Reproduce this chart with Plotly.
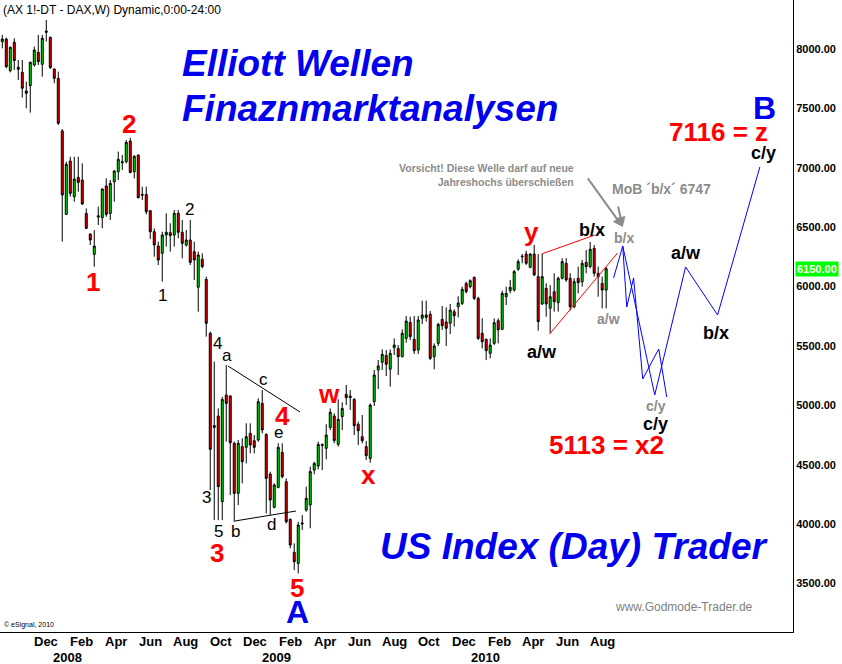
"""Weekly DAX future candles with an Elliott wave count (Godmode-Trader style)."""

import pandas as pd
import plotly.graph_objects as go

# Weekly bars, the first bar is the week of 2007-10-08.
first_week = "2007-10-08"
opens = [
    8060, 8084, 7817, 8056, 7846, 7803, 7646, 7691, 7865, 7972,
    7871, 8140, 8098, 7831, 7753, 7310, 6608, 7057, 6757, 6919,
    6897, 6616, 6442, 6271, 6585, 6580, 6847, 6616, 6883, 6967,
    7042, 7051, 7225, 6967, 7107, 6768, 6776, 6639, 6462, 6342,
    6280, 6434, 6454, 6434, 6617, 6457, 6350, 6392, 6294, 5994,
    6230, 6061, 5607, 4830, 4911, 4190, 5087, 5079, 4681, 4260,
    4653, 4647, 4765, 4703, 4709, 5017, 4756, 4422, 4142, 4310,
    4605, 4358, 4041, 3763, 3670, 4002, 4119, 4162, 4456, 4490,
    4662, 4639, 4815, 4911, 4672, 4905, 5093, 5065, 5051, 4841,
    4737, 4653, 4554, 5031, 5298, 5363, 5421, 5304, 5486, 5478,
    5410, 5564, 5699, 5556, 5466, 5733, 5761, 5767, 5410, 5522,
    5724, 5702, 5691, 5789, 5830, 5859, 6027, 5999, 6078, 5901,
    5607, 5556, 5438, 5522, 5713, 5640, 5915, 5966, 5971, 6145,
    6250, 6274, 6162, 6274, 6084, 5854, 5985, 5817, 5957, 5865,
    6070, 6196, 6070, 5831, 6070, 6041, 6204, 6168, 6322, 6112,
    6027, 5971,
]
highs = [
    8118, 8095, 8020, 8090, 7907, 7907, 7725, 7893, 8020, 8118,
    8118, 8244, 8104, 7837, 7809, 7326, 7051, 7093, 7093, 7093,
    7037, 6658, 6448, 6476, 6673, 6827, 6911, 6897, 6981, 7136,
    7107, 7234, 7253, 7107, 7113, 6841, 6841, 6644, 6490, 6378,
    6462, 6617, 6533, 6645, 6645, 6561, 6476, 6561, 6378, 6294,
    6280, 6084, 5621, 5368, 4975, 5073, 5340, 5087, 4695, 4709,
    4723, 4849, 4849, 4751, 5059, 5130, 4765, 4442, 4344, 4681,
    4681, 4386, 4049, 3839, 4021, 4077, 4316, 4485, 4526, 4695,
    4681, 4841, 4975, 4933, 5051, 5026, 5172, 5130, 5060, 4863,
    4919, 4700, 5017, 5298, 5382, 5472, 5466, 5472, 5564, 5508,
    5640, 5753, 5747, 5753, 5753, 5882, 5882, 5795, 5522, 5696,
    5837, 5825, 5854, 5809, 5918, 5999, 6041, 6061, 6084, 5915,
    5733, 5564, 5564, 5733, 5733, 5966, 5999, 6056, 6140, 6230,
    6274, 6302, 6280, 6350, 6274, 6275, 6027, 6013, 6112, 6084,
    6238, 6240, 6112, 6070, 6168, 6224, 6308, 6375, 6350, 6168,
    6084, 6165,
]
lows = [
    8005, 7837, 7803, 7823, 7739, 7590, 7500, 7464, 7851, 7865,
    7767, 8062, 7831, 7711, 7360, 6378, 6602, 6757, 6715, 6799,
    6687, 6485, 6350, 6167, 6518, 6490, 6588, 6560, 6715, 6897,
    6981, 7037, 6953, 6911, 6743, 6729, 6608, 6400, 6252, 6182,
    6042, 6336, 6294, 6336, 6406, 6238, 6336, 6182, 6056, 5789,
    6154, 5579, 4288, 4035, 4035, 4035, 4695, 4246, 4021, 4162,
    4344, 4512, 4596, 4596, 4695, 4765, 4091, 4077, 4133, 4302,
    4386, 4007, 3797, 3614, 3586, 3951, 4105, 3966, 4420, 4462,
    4456, 4546, 4793, 4681, 4653, 4793, 5003, 4961, 4751, 4667,
    4681, 4540, 4518, 4995, 5138, 5298, 5247, 5158, 5424, 5256,
    5405, 5528, 5550, 5433, 5433, 5685, 5705, 5382, 5304, 5500,
    5635, 5500, 5601, 5663, 5741, 5845, 5943, 5985, 5887, 5550,
    5480, 5382, 5396, 5508, 5522, 5635, 5845, 5943, 5957, 6134,
    6196, 6182, 6154, 6089, 5629, 5845, 5747, 5607, 5789, 5789,
    6060, 6040, 5800, 5817, 5943, 5999, 6112, 6154, 6084, 5915,
    5817, 5817,
]
closes = [
    8084, 7851, 8014, 7902, 7829, 7669, 7627, 7888, 7991, 7893,
    8090, 8150, 7843, 7753, 7374, 6771, 7029, 6785, 6905, 6877,
    6695, 6490, 6392, 6341, 6595, 6821, 6608, 6869, 6973, 7071,
    7050, 7214, 6961, 7096, 6748, 6775, 6630, 6462, 6350, 6224,
    6434, 6457, 6429, 6617, 6457, 6364, 6392, 6204, 6224, 6266,
    6168, 5691, 4630, 4815, 4316, 5051, 5017, 4686, 4260, 4681,
    4526, 4737, 4667, 4647, 5031, 4793, 4386, 4204, 4330, 4647,
    4400, 4021, 3825, 3685, 3993, 4010, 4218, 4443, 4512, 4672,
    4670, 4751, 4942, 4703, 4883, 4975, 5065, 5079, 4829, 4787,
    4703, 4577, 5003, 5256, 5332, 5430, 5346, 5438, 5508, 5410,
    5607, 5710, 5579, 5461, 5719, 5761, 5741, 5396, 5500, 5682,
    5671, 5649, 5803, 5755, 5862, 5977, 5957, 6050, 5901, 5564,
    5536, 5461, 5508, 5696, 5635, 5943, 5943, 5994, 6126, 6210,
    6255, 6196, 6274, 6098, 5705, 6084, 5854, 5915, 5873, 6070,
    6210, 6056, 5831, 6041, 6033, 6196, 6168, 6314, 6112, 6084,
    5971, 6150,
]
last_price = 6150

price_ticks = [3500, 4000, 4500, 5000, 5500, 6000, 6500, 7000, 7500, 8000]
month_ticks = [
    "2007-12", "2008-02", "2008-04", "2008-06", "2008-08", "2008-10",
    "2008-12", "2009-02", "2009-04", "2009-06", "2009-08", "2009-10",
    "2009-12", "2010-02", "2010-04", "2010-06", "2010-08",
]
month_labels = [
    "Dec", "Feb", "Apr", "Jun", "Aug", "Oct",
    "Dec", "Feb", "Apr", "Jun", "Aug", "Oct",
    "Dec", "Feb", "Apr", "Jun", "Aug",
]
year_ticks = ["2008-01-30", "2009-01-30", "2010-01-30"]
year_labels = ["2008", "2009", "2010"]

# Lines drawn by hand on the chart, as (date, price) pairs.
tri_upper_dates = ["2008-11-06", "2009-03-12"]
tri_upper_prices = [5332, 4945]
tri_lower_dates = ["2008-11-18", "2009-03-05"]
tri_lower_prices = [4027, 4111]
wedge_upper_dates = ["2010-05-09", "2010-08-10"]
wedge_upper_prices = [6275, 6434]
wedge_lower_dates = ["2010-05-23", "2010-09-19"]
wedge_lower_prices = [5601, 6283]

# Projected paths (blue).
proj_short_dates = ["2010-09-12", "2010-09-28", "2010-10-05", "2010-10-17",
                    "2010-11-02", "2010-11-30", "2010-12-14"]
proj_short_prices = [6073, 6342, 5828, 6073, 5222, 5475, 5071]
proj_long_dates = ["2010-09-28", "2010-11-23", "2011-01-16", "2011-03-13",
                   "2011-05-26"]
proj_long_prices = [6342, 5088, 6165, 5761, 7007]

# Wave labels: (text, date, price).
red_labels = [
    ("1", "2008-03-14", 6039), ("2", "2008-05-16", 7369),
    ("3", "2008-10-17", 3758), ("4", "2009-02-10", 4911),
    ("5", "2009-03-06", 3463), ("w", "2009-05-01", 5096),
    ("x", "2009-07-10", 4414), ("y", "2010-04-21", 6462),
    ("7116 = z", "2011-03-15", 7301), ("5113 = x2", "2010-08-31", 4667),
]
blue_labels = [("A", "2009-03-08", 3261), ("B", "2011-06-03", 7503)]
black_labels = [
    ("1", "2008-07-15", 5929), ("2", "2008-08-31", 6653),
    ("4", "2008-10-19", 5525), ("a", "2008-11-04", 5424),
    ("c", "2009-01-07", 5214), ("e", "2009-02-03", 4768),
    ("3", "2008-09-30", 4221), ("5", "2008-10-21", 3935),
    ("b", "2008-11-20", 3935), ("d", "2009-01-22", 3994),
]
black_bold_labels = [
    ("a/w", "2010-05-09", 5450), ("b/x", "2010-08-05", 6477),
    ("a/w", "2011-01-16", 6283), ("b/x", "2011-03-10", 5610),
    ("c/y", "2011-06-02", 7125), ("c/y", "2010-11-25", 4844),
]
grey_labels = [
    ("b/x", "2010-10-01", 6409), ("a/w", "2010-09-03", 5727),
    ("c/y", "2010-11-25", 4995), ("MoB ´b/x´ 6747", "2010-12-05", 6822),
]

_FONT = "Liberation Sans, Arial, sans-serif"
_NARROW = "Liberation Sans Narrow, Arial Narrow, Liberation Sans, Arial"
_UP = "#00ee00"
_DOWN = "#ee0000"
_RED = "#ff0000"
_BLUE = "#0000ee"
_GREY = "#8c8c8c"

weeks = pd.date_range(first_week, periods=len(opens), freq="7D")

fig = go.Figure()
fig.add_trace(
    go.Candlestick(
        x=weeks, open=opens, high=highs, low=lows, close=closes,
        increasing={"line": {"color": "black", "width": 1}, "fillcolor": _UP},
        decreasing={"line": {"color": "black", "width": 1}, "fillcolor": _DOWN},
        whiskerwidth=0,
        hoverinfo="skip",
    )
)


def _line(dates, prices, color):
    fig.add_trace(
        go.Scatter(x=dates, y=prices, mode="lines",
                   line={"color": color, "width": 1}, hoverinfo="skip")
    )


_line(tri_upper_dates, tri_upper_prices, "black")
_line(tri_lower_dates, tri_lower_prices, "black")
_line(wedge_upper_dates, wedge_upper_prices, _RED)
_line(wedge_lower_dates, wedge_lower_prices, _RED)
_line(proj_short_dates, proj_short_prices, "#0000ff")
_line(proj_long_dates, proj_long_prices, "#0000ff")


def _labels(items, size, color, weight="bold"):
    for text, d, p in items:
        fig.add_annotation(
            x=d, y=p, text=text, showarrow=False,
            font={"family": _FONT, "size": size, "color": color, "weight": weight},
        )


_labels(red_labels, 26, _RED)
_labels(blue_labels, 32, _BLUE)
_labels(black_labels, 17, "black", weight="normal")
_labels(black_bold_labels, 18, "black")
_labels(grey_labels, 14, _GREY)

# Warning note with arrows pointing at the grey b/x.
fig.add_annotation(
    x="2010-07-08", y=6939, xanchor="right", yanchor="middle", align="right",
    showarrow=False,
    text="Vorsicht! Diese Welle darf auf neue<br>Jahreshochs überschießen",
    font={"family": _FONT, "size": 10.5, "color": _GREY, "weight": "bold"},
)
for ax, ay in [(-36, -50), (-5, -22)]:
    fig.add_annotation(
        x="2010-09-28", y=6502, ax=ax, ay=ay, text="", showarrow=True,
        arrowhead=2, arrowsize=1, arrowwidth=2, arrowcolor=_GREY,
    )

# Headline texts.
for text, px, py in [("Elliott Wellen", 0.227, 0.900),
                     ("Finaznmarktanalysen", 0.227, 0.829),
                     ("US Index (Day) Trader", 0.477, 0.136)]:
    fig.add_annotation(
        xref="paper", yref="paper", x=px, y=py, xanchor="left",
        yanchor="middle", showarrow=False, text=text,
        font={"family": _FONT, "size": 37, "color": _BLUE,
              "weight": "bold", "style": "italic"},
    )

fig.add_annotation(
    xref="paper", yref="paper", x=0.001, y=1, xanchor="left", yanchor="top",
    yshift=-1, showarrow=False, text="(AX 1!-DT - DAX,W) Dynamic,0:00-24:00",
    font={"family": _FONT, "size": 12, "color": "black"},
)
fig.add_annotation(
    xref="paper", yref="paper", x=0.952, y=0.04, xanchor="right",
    yanchor="middle", showarrow=False, text="www.Godmode-Trader.de",
    font={"family": _FONT, "size": 12, "color": "#7f7f7f"},
)
fig.add_annotation(
    xref="paper", yref="paper", x=0.002, y=0.011, xanchor="left",
    yanchor="middle", showarrow=False, text="© eSignal, 2010",
    font={"family": _FONT, "size": 7, "color": "black"},
)

# Last price box on the price axis.
fig.add_annotation(
    xref="paper", x=1, y=last_price, xanchor="left", yanchor="middle",
    xshift=2, showarrow=False,
    text=f"{last_price:.2f}", bgcolor="#00ff00", borderpad=1,
    font={"family": _FONT, "size": 11, "color": "white", "weight": "bold"},
)

# Month and year captions under the time axis.
for m, text in zip(month_ticks, month_labels):
    fig.add_annotation(
        x=m + "-24", yref="paper", y=0, yanchor="middle", yshift=-9,
        showarrow=False, text=text,
        font={"family": _NARROW, "size": 13, "color": "black", "weight": "bold"},
    )
for d, text in zip(year_ticks, year_labels):
    fig.add_annotation(
        x=d, yref="paper", y=0, yanchor="middle", yshift=-25,
        showarrow=False, text=text,
        font={"family": _NARROW, "size": 13, "color": "black", "weight": "bold"},
    )

fig.update_layout(
    width=842, height=664,
    margin={"l": 0, "r": 49, "t": 0, "b": 32},
    paper_bgcolor="white", plot_bgcolor="white",
    showlegend=False,
    xaxis={
        "type": "date",
        "range": ["2007-10-04", "2011-07-23"],
        "rangeslider": {"visible": False},
        "showticklabels": False,
        "ticks": "",
        "showgrid": False,
        "showline": True, "linecolor": "black", "linewidth": 1,
    },
    yaxis={
        "side": "right",
        "range": [3093, 8412],
        "tickvals": price_ticks,
        "tickformat": ".2f",
        "ticks": "",
        "showgrid": False, "zeroline": False,
        "showline": True, "linecolor": "black", "linewidth": 1,
        "tickfont": {"family": _FONT, "size": 11, "color": "black",
                     "weight": "bold"},
    },
)

# The page body keeps its default 8px margin otherwise.
fig.write_html(
    "out.html",
    config={"displayModeBar": False},
    post_script="document.body.style.margin='0';",
)
